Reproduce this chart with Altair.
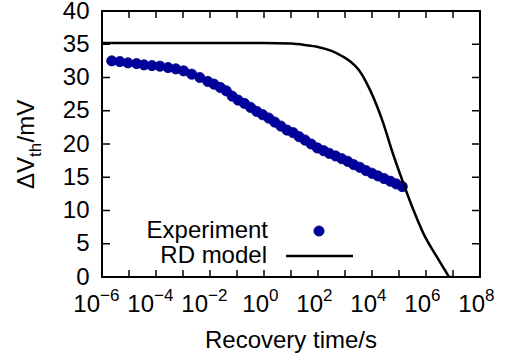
import altair as alt
import pandas as pd

# ---------------- data ----------------
exp_time = [2.3e-6, 4.6e-6, 9.1e-6, 1.9e-5, 3.6e-5, 7.1e-5, 1.4e-4, 2.8e-4, 5.4e-4, 1.05e-3,
            2.1e-3, 4.2e-3, 8.3e-3, 1.4e-2, 2.4e-2, 4.0e-2, 6.6e-2, 0.11, 0.19, 0.32,
            0.54, 0.89, 1.5, 2.5, 4.2, 7.1, 12, 20, 33, 56,
            95, 160, 260, 450, 760, 1260, 2090, 3550, 6030, 1.0e4,
            1.66e4, 2.82e4, 4.79e4, 7.94e4, 1.32e5]
exp_dvth = [32.5, 32.4, 32.2, 32.1, 31.9, 31.8, 31.7, 31.5, 31.3, 31.0,
            30.5, 30.0, 29.4, 29.0, 28.5, 28.0, 27.2, 26.6, 26.1, 25.5,
            24.9, 24.4, 23.9, 23.3, 22.7, 22.1, 21.7, 21.1, 20.6, 20.0,
            19.4, 19.0, 18.6, 18.2, 17.8, 17.4, 16.9, 16.5, 16.0, 15.6,
            15.2, 14.8, 14.4, 14.0, 13.6]

rd_time = [1e-6, 1e-2, 1, 10, 31.6, 100, 316, 794, 1585, 3310,
           8510, 2.63e4, 5.37e4, 1.45e5, 3.4e5, 7.9e5, 2.5e6, 5.9e6, 7.1e6, 8.9e6]
rd_dvth = [35.2, 35.2, 35.2, 35.1, 34.9, 34.6, 34.0, 33.2, 32.4, 31.1,
           28.1, 23.1, 19.1, 14.1, 10.1, 6.6, 3.05, 0.56, 0.05, 0.0]

x_tick_values = [1e-6, 1e-5, 1e-4, 1e-3, 1e-2, 1e-1, 1, 10, 100, 1e3, 1e4, 1e5, 1e6, 1e7, 1e8]
x_label_neg_values = [1e-6, 1e-4, 1e-2]
x_label_neg_exps = ["\u22126", "\u22124", "\u22122"]
x_label_pos_values = [1, 1e2, 1e4, 1e6, 1e8]
x_label_pos_exps = ["0", "2", "4", "6", "8"]
y_tick_values = [0, 5, 10, 15, 20, 25, 30, 35, 40]

legend_exp_label = ["Experiment"]
legend_rd_label = ["RD model"]
x_title = ["Recovery time/s"]
y_title_parts = ["\u0394V", "th", "/mV"]

# ---------------- style ----------------
W, H = 378, 266
FONT = "Liberation Sans"
BLUE = "#0000a0"
EDGE = "#000078"
FS = 24
FS_SMALL = 17
PT_SIZE = 105

x_scale = alt.Scale(type="log", domain=[1e-6, 1e8], nice=False)
y_scale = alt.Scale(domain=[0, 40], nice=False)
y_axis = alt.Axis(values=y_tick_values, ticks=False, domain=False, grid=False,
                  labelFont=FONT, labelFontSize=FS, labelPadding=13,
                  labelColor="black", title=None)


def X(field="t"):
    return alt.X(f"{field}:Q", scale=x_scale, axis=None)


def Y(field="v"):
    return alt.Y(f"{field}:Q", scale=y_scale, axis=y_axis)


exp_df = pd.DataFrame({"t": exp_time, "v": exp_dvth})
rd_df = pd.DataFrame({"t": rd_time, "v": rd_dvth})
xt_df = pd.DataFrame({"t": x_tick_values})
yt_df = pd.DataFrame({"v": y_tick_values})
xl_neg = pd.DataFrame({"t": x_label_neg_values, "e": x_label_neg_exps})
xl_pos = pd.DataFrame({"t": x_label_pos_values, "e": x_label_pos_exps})

points = alt.Chart(exp_df).mark_circle(size=PT_SIZE, color=BLUE, opacity=1,
                                       stroke=EDGE, strokeWidth=0.8).encode(x=X(), y=Y())
line = alt.Chart(rd_df).mark_line(color="black", strokeWidth=2.5, interpolate="monotone",
                                  clip=True).encode(x=X(), y=Y())

tick_style = dict(color="black", strokeWidth=1.5)
xt_bottom = alt.Chart(xt_df).mark_rule(**tick_style).encode(x=X(), y=alt.value(H), y2=alt.value(H - 7))
xt_top = alt.Chart(xt_df).mark_rule(**tick_style).encode(x=X(), y=alt.value(0), y2=alt.value(7))
yt_left = alt.Chart(yt_df).mark_rule(**tick_style).encode(y=Y(), x=alt.value(0), x2=alt.value(8))
yt_right = alt.Chart(yt_df).mark_rule(**tick_style).encode(y=Y(), x=alt.value(W - 8), x2=alt.value(W))


def xlabels(df, dx):
    base = alt.Chart(df).mark_text(text="10", align="right", baseline="alphabetic",
                                   font=FONT, fontSize=FS, color="black", dx=dx).encode(
        x=X(), y=alt.value(H + 35))
    expo = alt.Chart(df).mark_text(align="left", baseline="alphabetic",
                                   font=FONT, fontSize=FS_SMALL, color="black", dx=dx).encode(
        x=X(), y=alt.value(H + 24), text="e:N")
    return [base, expo]


xlab_layers = xlabels(xl_neg, -2) + xlabels(xl_pos, 5)

xtitle = alt.Chart(pd.DataFrame({"s": x_title})).mark_text(
    align="center", baseline="alphabetic", font=FONT, fontSize=FS, color="black").encode(
    text="s:N", x=alt.value(W / 2), y=alt.value(H + 71))

yt_df1 = pd.DataFrame({"s": [y_title_parts[0]]})
yt_df2 = pd.DataFrame({"s": [y_title_parts[1]]})
yt_df3 = pd.DataFrame({"s": [y_title_parts[2]]})
ytitle1 = alt.Chart(yt_df1).mark_text(align="left", baseline="alphabetic", angle=270,
                                      font=FONT, fontSize=FS, color="black").encode(
    text="s:N", x=alt.value(-68), y=alt.value(178))
ytitle2 = alt.Chart(yt_df2).mark_text(align="left", baseline="alphabetic", angle=270,
                                      font=FONT, fontSize=FS_SMALL, color="black").encode(
    text="s:N", x=alt.value(-61), y=alt.value(146))
ytitle3 = alt.Chart(yt_df3).mark_text(align="left", baseline="alphabetic", angle=270,
                                      font=FONT, fontSize=FS, color="black").encode(
    text="s:N", x=alt.value(-68), y=alt.value(131.5))

leg1 = alt.Chart(pd.DataFrame({"s": legend_exp_label})).mark_text(
    align="right", baseline="alphabetic", font=FONT, fontSize=FS, color="black").encode(
    text="s:N", x=alt.value(166), y=alt.value(227))
leg2 = alt.Chart(pd.DataFrame({"s": legend_rd_label})).mark_text(
    align="right", baseline="alphabetic", font=FONT, fontSize=FS, color="black").encode(
    text="s:N", x=alt.value(165), y=alt.value(252))
leg_marker = alt.Chart(pd.DataFrame({"s": legend_exp_label})).mark_circle(
    size=PT_SIZE, color=BLUE, opacity=1, stroke=EDGE, strokeWidth=0.8).encode(
    x=alt.value(217), y=alt.value(220))
leg_line = alt.Chart(pd.DataFrame({"s": legend_rd_label})).mark_rule(
    color="black", strokeWidth=2.5).encode(x=alt.value(184), x2=alt.value(251), y=alt.value(245))

chart = alt.layer(
    xt_bottom, xt_top, yt_left, yt_right,
    points, line,
    *xlab_layers, xtitle, ytitle1, ytitle2, ytitle3,
    leg1, leg2, leg_marker, leg_line,
).properties(
    width=W, height=H,
    padding={"left": 102, "top": 11, "right": 29, "bottom": 84},
    autosize=alt.AutoSizeParams(type="none"),
    background="white",
).configure_view(stroke="black", strokeWidth=2)

chart.save("out.html", embed_options={"renderer": "svg", "actions": False})
